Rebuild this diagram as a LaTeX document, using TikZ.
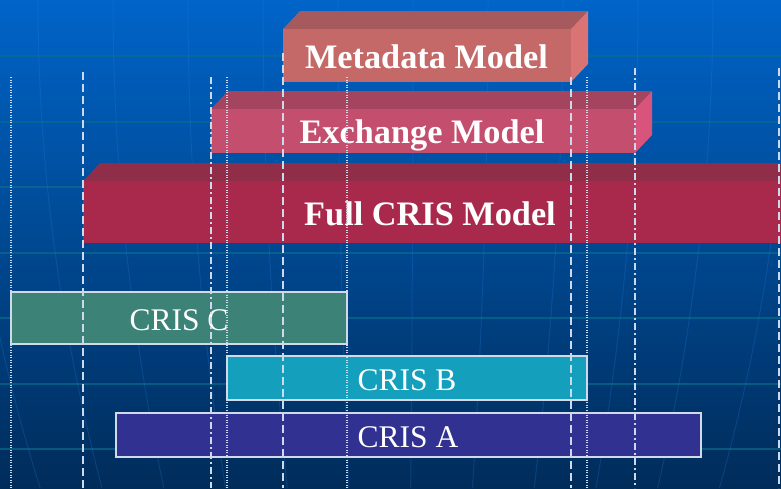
\documentclass[tikz,border=0pt]{standalone}
\usepackage{fontspec}
\setmainfont{Liberation Serif}
\definecolor{bgtop}{RGB}{0,100,200}
\definecolor{bgmid}{RGB}{0,78,158}
\definecolor{bgbot}{RGB}{0,44,90}
\definecolor{hline}{RGB}{10,110,140}
\definecolor{meri}{RGB}{40,130,230}
\definecolor{guide}{RGB}{205,218,238}
\definecolor{metafront}{RGB}{196,104,104}
\definecolor{metatop}{RGB}{166,90,94}
\definecolor{metaside}{RGB}{218,116,116}
\definecolor{exfront}{RGB}{196,78,110}
\definecolor{extop}{RGB}{164,68,95}
\definecolor{exside}{RGB}{216,84,124}
\definecolor{fullfront}{RGB}{168,41,76}
\definecolor{fulltop}{RGB}{144,45,72}
\definecolor{criscfill}{RGB}{61,130,118}
\definecolor{crisbfill}{RGB}{20,160,188}
\definecolor{crisafill}{RGB}{49,49,146}
\definecolor{crisborder}{RGB}{210,218,232}
\begin{document}
\begin{tikzpicture}[x=1pt,y=-1pt,
  modeltext/.style={text=white,font=\fontsize{34.3}{40}\selectfont\bfseries,inner sep=0pt,anchor=base},
  cristext/.style={text=white,font=\fontsize{31.5}{38}\selectfont,inner sep=0pt,anchor=base},
  crisbox/.style={draw=crisborder,line width=1.3pt},
  vdot/.style={draw=guide,line width=1.3pt,dash pattern=on 1.3pt off 1.2pt},
  vdash/.style={draw=guide,line width=1.6pt,dash pattern=on 8pt off 4pt},
  vdashdot/.style={draw=guide,line width=1.5pt,dash pattern=on 7pt off 3pt on 2pt off 3pt}]
\useasboundingbox (0,0) rectangle (781,488);
\begin{scope}
\clip (0,0) rectangle (781,488);
% background
\shade[top color=bgtop,middle color=bgmid,bottom color=bgbot] (0,0) rectangle (781,488);
\foreach \yy in {56,122,187,253,318,384,449}
  \draw[hline,line width=1.2pt,opacity=0.65] (0,\yy) -- (781,\yy);
\foreach \a in {-437,-362,-287,-212,-137,-62,13,88,163,238,313,388}
  \draw[meri,line width=1pt,opacity=0.22] plot[domain=0:488,samples=25,smooth] ({400+\a*(1-0.742*(\x/1000)*(\x/1000))},\x);
% Metadata Model box
\fill[metatop] (283,29) -- (300,11) -- (588,11) -- (571,29) -- cycle;
\fill[metaside] (571,29) -- (588,11) -- (588,64) -- (571,82) -- cycle;
\fill[metafront] (283,29) rectangle (571,82);
\node[modeltext] (meta) at (426.5,68) {Metadata Model};
% Exchange Model box
\fill[extop] (211,109) -- (228,91) -- (652,91) -- (635,109) -- cycle;
\fill[exside] (635,109) -- (652,91) -- (652,135) -- (635,153) -- cycle;
\fill[exfront] (211,109) rectangle (635,153);
\node[modeltext] (exch) at (422,143) {Exchange Model};
% Full CRIS Model box
\fill[fulltop] (83,181) -- (100,163) -- (817,163) -- (800,181) -- cycle;
\fill[fullfront] (83,181) rectangle (800,243);
\node[modeltext] (full) at (430,225) {Full CRIS Model};
% CRIS systems
\filldraw[crisbox,fill=criscfill] (11,292) rectangle (347,344);
\node[cristext] (crisc) at (179,330) {CRIS C};
\filldraw[crisbox,fill=crisbfill] (227,356) rectangle (587,400);
\node[cristext] (crisb) at (407,390) {CRIS B};
\filldraw[crisbox,fill=crisafill] (116,413) rectangle (701,457);
\node[cristext] (crisa) at (408,447) {CRIS A};
% guide lines
\draw[vdot] (11,77) -- (11,488);
\draw[vdash] (83,72) -- (83,488);
\draw[vdashdot] (211,77) -- (211,488);
\draw[vdot] (227,77) -- (227,488);
\draw[vdash] (283,53) -- (283,488);
\draw[vdot] (347,77) -- (347,488);
\draw[vdash] (571,77) -- (571,488);
\draw[vdot] (587,77) -- (587,488);
\draw[vdashdot] (635,68) -- (635,488);
\draw[vdash] (779,68) -- (779,488);
\end{scope}
\end{tikzpicture}
\end{document}
